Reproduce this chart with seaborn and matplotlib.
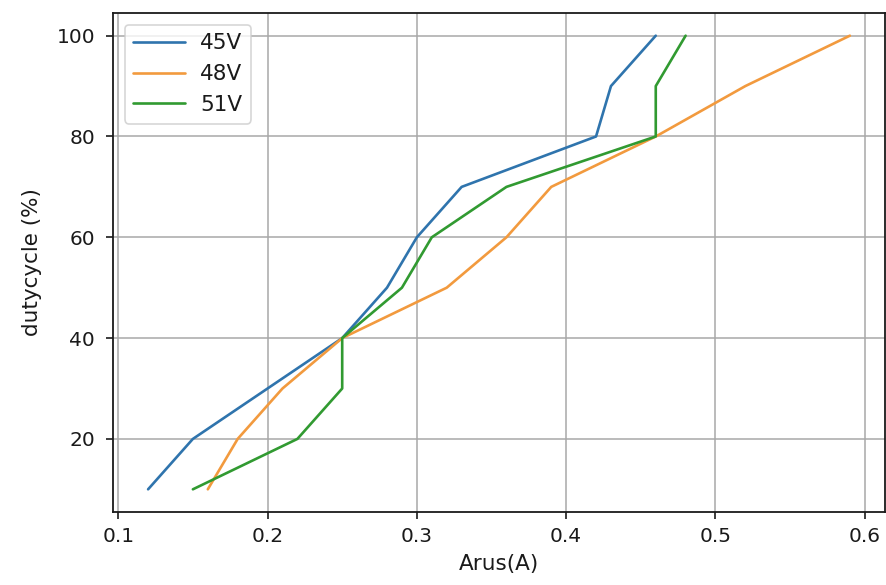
import matplotlib
matplotlib.use("Agg")
import matplotlib.pyplot as plt
import seaborn as sns
import pandas as pd

duty = [10, 20, 30, 40, 50, 60, 70, 80, 90, 100]
arus_45 = [0.12, 0.15, 0.20, 0.25, 0.28, 0.30, 0.33, 0.42, 0.43, 0.46]
arus_48 = [0.16, 0.18, 0.21, 0.25, 0.32, 0.36, 0.39, 0.46, 0.52, 0.59]
arus_51 = [0.15, 0.22, 0.25, 0.25, 0.29, 0.31, 0.36, 0.46, 0.46, 0.48]
labels = ["45V", "48V", "51V"]

rows = []
for lab, xs in zip(labels, [arus_45, arus_48, arus_51]):
    for x, y in zip(xs, duty):
        rows.append({"arus": x, "duty": y, "series": lab})
df = pd.DataFrame(rows)

sns.set_style("ticks")
plt.rcParams["font.family"] = ["DejaVu Sans"]

fig = plt.figure(figsize=(8.87, 5.85), dpi=100)
ax = fig.add_axes([0.1274, 0.1248, 0.8703, 0.853])
sns.lineplot(data=df, x="arus", y="duty", hue="series", estimator=None,
             sort=False, palette=["#2f74ad", "#f29a3e", "#319a31"],
             linewidth=1.9, ax=ax)
ax.grid(True, color="#a8a8a8", linewidth=1.1)
ax.set_axisbelow(True)
for s in ax.spines.values():
    s.set_color("#1a1a1a")
    s.set_linewidth(1.3)
ax.tick_params(labelsize=14.5, length=5, width=1.2, colors="#1a1a1a")
ax.tick_params(axis="y", pad=8)
ax.tick_params(axis="x", pad=5.5)
ax.set_xlabel("Arus(A)", fontsize=15.5, color="#1a1a1a")
ax.set_ylabel("dutycycle (%)", fontsize=15.5, color="#1a1a1a")
ax.xaxis.set_label_coords(0.5, -0.084)
ax.yaxis.set_label_coords(-0.092, 0.5)
ax.set_xticks([0.1, 0.2, 0.3, 0.4, 0.5, 0.6])
ax.set_yticks([20, 40, 60, 80, 100])
ax.margins(x=0.05, y=0.05)
leg = ax.legend(loc="upper left", fontsize=15.5, title=None, frameon=True,
                handlelength=2.4, handletextpad=0.7, borderaxespad=0.55,
                borderpad=0.4)
leg.get_frame().set_edgecolor("#cccccc")
leg.get_frame().set_linewidth(1.2)
for t in leg.get_texts():
    t.set_color("#1a1a1a")
fig.savefig("out.png", dpi=100)
